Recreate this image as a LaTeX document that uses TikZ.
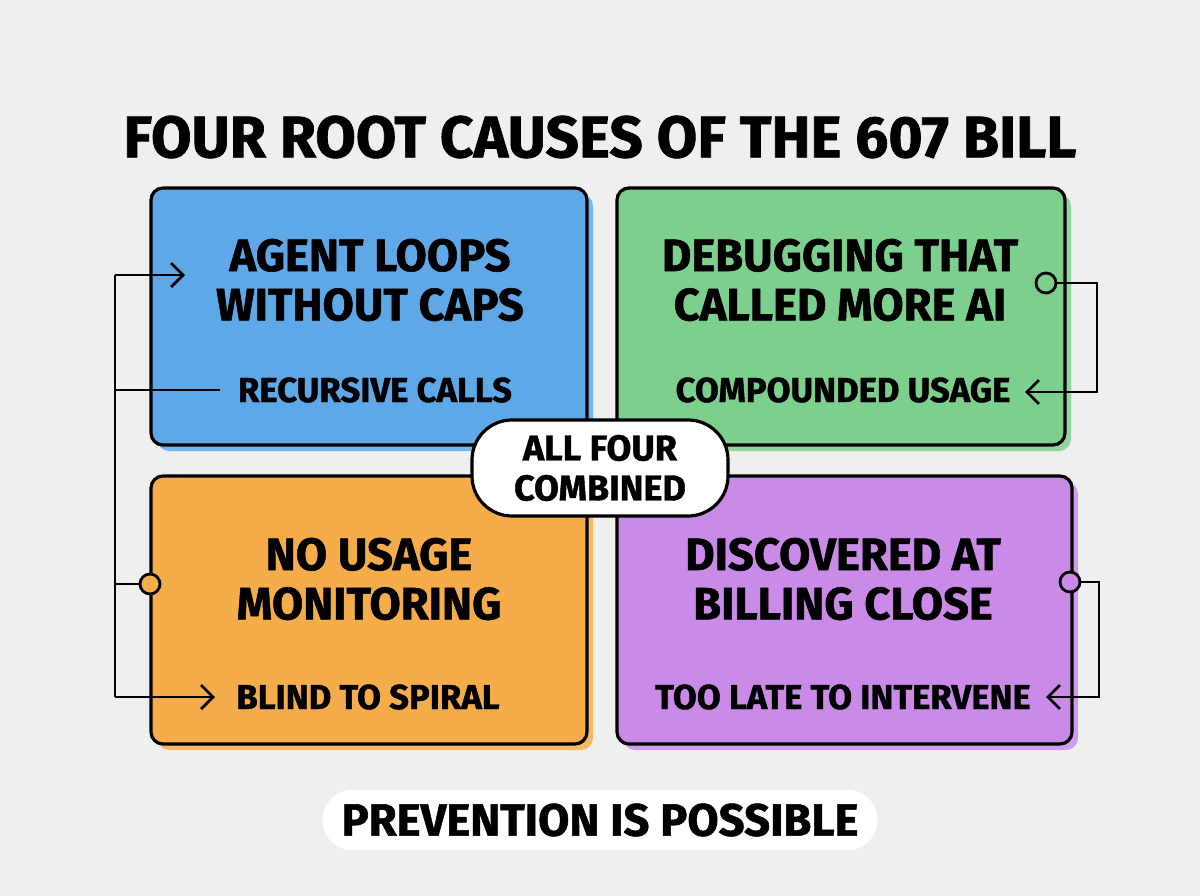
\documentclass[tikz,border=0pt]{standalone}
\usepackage{fontspec}
\setmainfont{Fira Sans}[BoldFeatures={FakeBold=1.2}]
\usetikzlibrary{arrows.meta}
\definecolor{bg}{HTML}{EFEFEF}
\definecolor{cblue}{HTML}{5EA8E8}
\definecolor{cgreen}{HTML}{7DCF8E}
\definecolor{corange}{HTML}{F5AD4B}
\definecolor{cpurple}{HTML}{C98AE8}
\tikzset{
  card/.style={draw=black, line width=2.4pt, rounded corners=9pt},
  head/.style={font=\bfseries\fontsize{34}{37}\selectfont, align=center, inner sep=0pt},
  sub/.style={font=\bfseries\fontsize{26}{28}\selectfont, inner sep=0pt},
  conn/.style={line width=2.1pt, draw=black},
  tip/.style={-{Straight Barb[length=9pt,width=18pt,line width=2.1pt]}},
  port/.style={circle, draw=black, line width=2.1pt, minimum size=15pt, inner sep=0pt}
}
\begin{document}
\begin{tikzpicture}[x=0.75pt,y=-0.75pt]
\useasboundingbox (0,0) rectangle (1200,896);
\fill[bg] (0,0) rectangle (1200,896);
% title
\node[font=\bfseries\fontsize{44}{48}\selectfont, inner sep=0pt] (title) at (600,137) {FOUR ROOT CAUSES OF THE 607 BILL};
% shadows
\fill[cblue!85!white, rounded corners=9pt] (157,194) rectangle (593,451);
\fill[cgreen!85!white, rounded corners=9pt] (623,194) rectangle (1071,451);
\fill[corange!85!white, rounded corners=9pt] (157,482) rectangle (593,750);
\fill[cpurple!85!white, rounded corners=9pt] (623,482) rectangle (1078,750);
% cards
\draw[card, fill=cblue] (151,188) rectangle (587,445);
\draw[card, fill=cgreen] (617,188) rectangle (1065,445);
\draw[card, fill=corange] (151,476) rectangle (587,744);
\draw[card, fill=cpurple] (617,476) rectangle (1072,744);
% texts
\node[head] (h1) at (370,280) {AGENT LOOPS\\WITHOUT CAPS};
\node[sub] (s1) at (375,390) {RECURSIVE CALLS};
\node[head] (h2) at (840,280) {DEBUGGING THAT\\CALLED MORE AI};
\node[sub] (s2) at (843,390) {COMPOUNDED USAGE};
\node[head] (h3) at (369,579) {NO USAGE\\MONITORING};
\node[sub] (s3) at (368,697) {BLIND TO SPIRAL};
\node[head] (h4) at (843,579) {DISCOVERED AT\\BILLING CLOSE};
\node[sub] (s4) at (843,697) {TOO LATE TO INTERVENE};
% centre pill
\node[draw=black, line width=2.4pt, fill=white, rounded corners=30pt, minimum width=192pt, minimum height=72pt, inner sep=0pt, align=center, font=\bfseries\fontsize{27}{30}\selectfont] (all) at (600,468) {ALL FOUR\\COMBINED};
% bottom pill
\node[fill=white, rounded corners=22pt, minimum width=416pt, minimum height=45pt, inner sep=0pt, font=\bfseries\fontsize{34}{38}\selectfont] (prev) at (600,820) {PREVENTION IS POSSIBLE};
% left connectors
\coordinate (l1) at (115,275);
\coordinate (l2) at (115,390);
\coordinate (l3) at (115,584);
\coordinate (l4) at (115,697);
\coordinate (a1) at (185,275);
\coordinate (e2) at (220,390);
\coordinate (a4) at (215,697);
\node[port, fill=corange] (p3) at (150,584) {};
\draw[conn] (l1) -- (l4);
\draw[conn, tip] (l1) -- (a1);
\draw[conn] (l2) -- (e2);
\draw[conn] (p3.west) -- (l3);
\draw[conn, tip] (l4) -- (a4);
% green connector
\node[port, fill=cgreen] (p2) at (1046,283) {};
\coordinate (g1) at (1097,283);
\coordinate (g2) at (1097,392);
\coordinate (ga) at (1025,392);
\draw[conn, tip] (p2.east) -- (g1) -- (g2) -- (ga);
% purple connector
\node[port, fill=cpurple] (p4) at (1070,582) {};
\coordinate (q1) at (1099,582);
\coordinate (q2) at (1099,697);
\coordinate (qa) at (1046,697);
\draw[conn, tip] (p4.east) -- (q1) -- (q2) -- (qa);
\end{tikzpicture}
\end{document}
